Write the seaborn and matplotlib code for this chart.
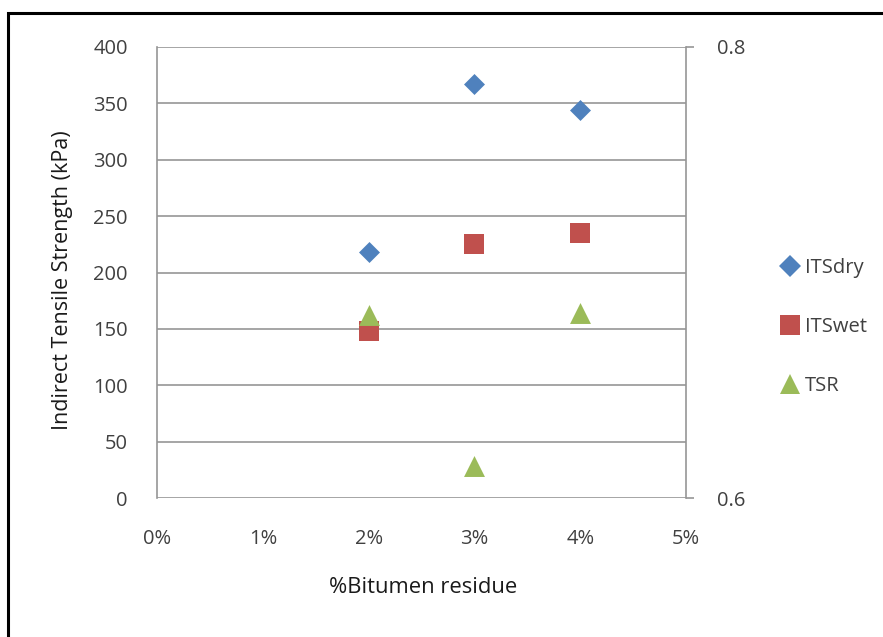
import matplotlib
matplotlib.use("Agg")
import matplotlib.pyplot as plt
import seaborn as sns
import pandas as pd
from matplotlib.patches import Rectangle
from matplotlib.lines import Line2D
from matplotlib.ticker import FuncFormatter

sns.set_theme(style="white")
plt.rcParams['font.family'] = ['Open Sans', 'DejaVu Sans']

bitumen = [0.02, 0.03, 0.04]
its_dry = [218, 367, 344]
its_wet = [148, 225, 235]
tsr = [0.681, 0.614, 0.682]
left_ticks = [0, 50, 100, 150, 200, 250, 300, 350, 400]
right_ticks = [0.6, 0.8]
x_ticks = [0.0, 0.01, 0.02, 0.03, 0.04, 0.05]

colors = {'ITSdry': '#4F81BD', 'ITSwet': '#C0504D', 'TSR': '#9BBB59'}
text_color = '#404040'

df_its = pd.DataFrame({
    'bitumen': bitumen * 2,
    'value': its_dry + its_wet,
    'series': ['ITSdry'] * 3 + ['ITSwet'] * 3,
})
df_tsr = pd.DataFrame({'bitumen': bitumen, 'value': tsr, 'series': ['TSR'] * 3})

fig = plt.figure(figsize=(8.83, 6.37), dpi=100)
ax = fig.add_axes([157/883, 1-498/637, (686-157)/883, (498-47)/637])
ax2 = ax.twinx()

sns.scatterplot(data=df_its[df_its.series == 'ITSdry'], x='bitumen', y='value', ax=ax,
                color=colors['ITSdry'], marker='D', s=114, linewidth=0, legend=False, zorder=3)
sns.scatterplot(data=df_its[df_its.series == 'ITSwet'], x='bitumen', y='value', ax=ax,
                color=colors['ITSwet'], marker='s', s=207, linewidth=0, legend=False, zorder=3)
sns.scatterplot(data=df_tsr, x='bitumen', y='value', ax=ax2,
                color=colors['TSR'], marker='^', s=227, linewidth=0, legend=False, zorder=3)

ax.set_xlim(0, 0.05)
ax.set_ylim(0, 400)
ax2.set_ylim(0.6, 0.8)
ax.set_xticks(x_ticks)
ax.xaxis.set_major_formatter(FuncFormatter(lambda v, p: f"{v*100:.0f}%"))
ax.set_yticks(left_ticks)
ax2.set_yticks(right_ticks)
ax2.set_yticklabels([f"{v:.1f}" for v in right_ticks])

grid_c = '#969696'
ax.yaxis.grid(True, color=grid_c, linewidth=1.2)
ax.xaxis.grid(False)
ax.set_axisbelow(True)
for a in (ax, ax2):
    for s in ['top', 'bottom', 'left', 'right']:
        a.spines[s].set_visible(False)
ax.spines['left'].set_visible(True)
ax.spines['left'].set_color(grid_c)
ax.spines['left'].set_linewidth(1.2)
ax2.spines['right'].set_visible(True)
ax2.spines['right'].set_color(grid_c)
ax2.spines['right'].set_linewidth(1.2)

ax.tick_params(axis='x', length=0, pad=22, labelsize=14.5, labelcolor=text_color)
ax.tick_params(axis='y', length=0, pad=21, labelsize=14.5, labelcolor=text_color)
ax2.tick_params(axis='y', direction='out', length=6, width=1.2, color=grid_c,
                pad=16, labelsize=14.5, labelcolor=text_color, right=True)

ax.set_xlabel('%Bitumen residue', fontsize=15.8, color='#1a1a1a', labelpad=0, weight='medium')
ax.set_ylabel('Indirect Tensile Strength (kPa)', fontsize=15.5, color='#1a1a1a')
ax2.set_ylabel('')
ax.xaxis.set_label_coords((423-157)/(686-157), -(577-498)/(498-47))
ax.yaxis.set_label_coords(-(157-73)/(686-157), (498-280)/(498-47))

handles = [
    Line2D([], [], linestyle='none', marker='D', markersize=10.7, color=colors['ITSdry'], markeredgewidth=0),
    Line2D([], [], linestyle='none', marker='s', markersize=13.7, color=colors['ITSwet'], markeredgewidth=0),
    Line2D([], [], linestyle='none', marker='^', markersize=15, color=colors['TSR'], markeredgewidth=0),
]
leg = fig.legend(handles, ['ITSdry', 'ITSwet', 'TSR'], loc='center left',
                 bbox_to_anchor=(760/883, 1-327/637), frameon=False, fontsize=14.5,
                 labelspacing=1.95, handletextpad=0.15, handlelength=1.2)
for t in leg.get_texts():
    t.set_color(text_color)

fig.patches.append(Rectangle((8/883, -0.1), 1.2, 1-13/637+0.1, transform=fig.transFigure,
                             fill=False, edgecolor='black', linewidth=2.2, zorder=10))

fig.savefig('out.png', dpi=100)
